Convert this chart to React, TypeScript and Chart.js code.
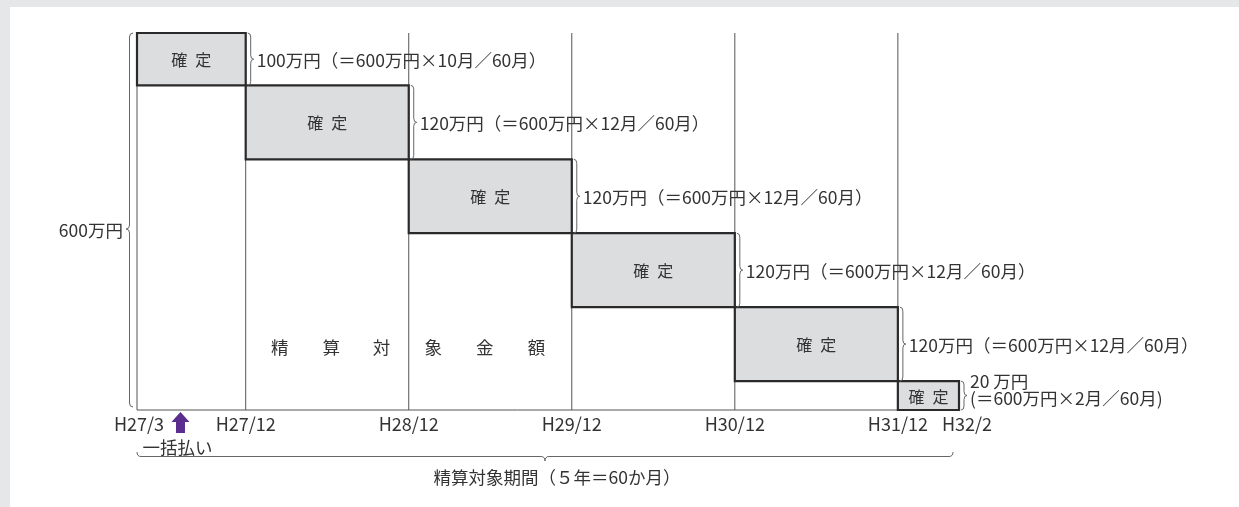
import { useEffect, useRef } from 'react';
import { Chart, registerables } from 'chart.js';

Chart.register(...registerables);

// ---- data (schematic diagram) ----
const periodLabels = ['H27/3', 'H27/12', 'H28/12', 'H29/12', 'H30/12', 'H31/12', 'H32/2'];
// x positions of the period boundaries on the diagram (month-like schematic units)
const periodEdges = [0, 8, 20, 32, 44, 56, 60.5];
// settled amounts per period (万円)
const settledAmounts = [100, 120, 120, 120, 120, 20];
// drawn heights of the boxes on the diagram (schematic, not to scale)
const drawnHeights = [85, 120, 120, 120, 120, 47];
const amountLabels: string[][] = [
  ['100万円（＝600万円×10月／60月）'],
  ['120万円（＝600万円×12月／60月）'],
  ['120万円（＝600万円×12月／60月）'],
  ['120万円（＝600万円×12月／60月）'],
  ['120万円（＝600万円×12月／60月）'],
  ['20 万円', '(＝600万円×2月／60月)'],
];
const boxLabel = '確\u2002定';
const totalLabel = '600万円';
const targetChars = ['精', '算', '対', '象', '金', '額'];
const targetCharX = [10.5, 14.3, 18.0, 21.8, 25.6, 29.4];
const targetCharY = 102;
const paymentLabel = '一括払い';
const paymentAt = 3.2;
const periodNote = '精算対象期間（５年＝60か月）';

const FONT = '"Noto Sans CJK JP", "Noto Sans", sans-serif';
const TEXT = '#333333';
const LINE = '#555555';

function braceV(ctx: CanvasRenderingContext2D, x0: number, y0: number, y1: number, d: number, w: number, tipY?: number) {
  const ym = tipY ?? (y0 + y1) / 2;
  const xm = x0 + (d * w) / 2;
  const xt = x0 + d * w;
  const r = Math.min(4, (y1 - y0) / 4);
  ctx.beginPath();
  ctx.moveTo(x0, y0);
  ctx.quadraticCurveTo(xm, y0, xm, y0 + r);
  ctx.lineTo(xm, ym - r);
  ctx.quadraticCurveTo(xm, ym, xt, ym);
  ctx.quadraticCurveTo(xm, ym, xm, ym + r);
  ctx.lineTo(xm, y1 - r);
  ctx.quadraticCurveTo(xm, y1, x0, y1);
  ctx.stroke();
}

function braceH(ctx: CanvasRenderingContext2D, x0: number, x1: number, y0: number, d: number, h: number) {
  const xm = (x0 + x1) / 2;
  const ym = y0 + (d * h) / 2;
  const yt = y0 + d * h;
  const r = 4;
  ctx.beginPath();
  ctx.moveTo(x0, y0);
  ctx.quadraticCurveTo(x0, ym, x0 + r, ym);
  ctx.lineTo(xm - r, ym);
  ctx.quadraticCurveTo(xm, ym, xm, yt);
  ctx.quadraticCurveTo(xm, ym, xm + r, ym);
  ctx.lineTo(x1 - r, ym);
  ctx.quadraticCurveTo(x1, ym, x1, y0);
  ctx.stroke();
}

export default function App() {
  const ref = useRef<HTMLCanvasElement>(null);

  useEffect(() => {
    document.body.style.margin = '0';
    const canvas = ref.current;
    if (!canvas) return;

    const bottoms: number[] = [];
    let acc = 0;
    for (let i = drawnHeights.length - 1; i >= 0; i--) {
      bottoms[i] = acc;
      acc += drawnHeights[i];
    }
    const total = acc;

    const boxDatasets = drawnHeights.map((h, i) => ({
      type: 'line' as const,
      data: [
        { x: periodEdges[i], y: bottoms[i] },
        { x: periodEdges[i + 1], y: bottoms[i] },
        { x: periodEdges[i + 1], y: bottoms[i] + h },
        { x: periodEdges[i], y: bottoms[i] + h },
        { x: periodEdges[i], y: bottoms[i] },
      ],
      fill: 'shape' as const,
      backgroundColor: '#dcdddf',
      borderColor: '#2a2a2a',
      borderWidth: 2.2,
      borderJoinStyle: 'miter' as const,
      borderCapStyle: 'square' as const,
      pointRadius: 0,
      tension: 0,
      order: 1,
      clip: false as const,
    }));

    const gridPoints: { x: number; y: number | null }[] = [];
    for (let i = 0; i < periodEdges.length - 1; i++) {
      gridPoints.push({ x: periodEdges[i], y: 0 }, { x: periodEdges[i], y: total }, { x: periodEdges[i], y: null });
    }
    gridPoints.push({ x: periodEdges[0], y: 0 }, { x: periodEdges[periodEdges.length - 2], y: 0 });

    const annotations = {
      id: 'annotations',
      afterDraw(chart: Chart) {
        const ctx = chart.ctx;
        const xs = chart.scales.x;
        const ys = chart.scales.y;
        const px = (v: number) => xs.getPixelForValue(v);
        const py = (v: number) => ys.getPixelForValue(v);
        ctx.save();
        ctx.fillStyle = TEXT;
        ctx.strokeStyle = '#666';
        ctx.lineWidth = 1;

        // box captions
        ctx.font = `16px ${FONT}`;
        ctx.textAlign = 'center';
        ctx.textBaseline = 'middle';
        drawnHeights.forEach((h, i) => {
          const cx = (px(periodEdges[i]) + px(periodEdges[i + 1])) / 2;
          const cy = py(bottoms[i] + h / 2);
          ctx.fillText(boxLabel, cx, cy + 1);
        });

        // amount braces + labels
        ctx.font = `17.5px ${FONT}`;
        ctx.textAlign = 'left';
        drawnHeights.forEach((h, i) => {
          const xr = px(periodEdges[i + 1]) + 2;
          const yt = py(bottoms[i] + h);
          const yb = py(bottoms[i]);
          braceV(ctx, xr, yt, yb, 1, 6);
          const lines = amountLabels[i];
          const mid = (yt + yb) / 2;
          lines.forEach((t, k) => {
            const off = lines.length > 1 ? (k - (lines.length - 1) / 2) * 17 - 7 : 0;
            ctx.fillText(t, xr + 9, mid + off + 1);
          });
        });

        // total brace on the left
        const lx = px(periodEdges[0]) - 4;
        const top = py(total);
        const bot = py(0) - 3;
        braceV(ctx, lx, top, bot, -1, 7, (top + bot) / 2 + 9);
        ctx.textAlign = 'right';
        ctx.fillText(totalLabel, lx - 10, (top + bot) / 2 + 10);

        // 精算対象金額
        ctx.textAlign = 'center';
        targetChars.forEach((c, i) => ctx.fillText(c, px(targetCharX[i]), py(targetCharY)));

        // period tick labels
        ctx.font = `18px ${FONT}`;
        const base = py(0);
        periodLabels.forEach((t, i) => {
          const shift = i === periodLabels.length - 1 ? 8 : i === 0 ? 2 : 0;
          ctx.fillText(t, px(periodEdges[i]) + shift, base + 14);
        });

        // payment arrow
        const ax = px(paymentAt);
        ctx.fillStyle = '#5b2d8f';
        ctx.beginPath();
        ctx.moveTo(ax, base + 2);
        ctx.lineTo(ax + 9, base + 12);
        ctx.lineTo(ax + 4.5, base + 12);
        ctx.lineTo(ax + 4.5, base + 23);
        ctx.lineTo(ax - 4.5, base + 23);
        ctx.lineTo(ax - 4.5, base + 12);
        ctx.lineTo(ax - 9, base + 12);
        ctx.closePath();
        ctx.fill();
        ctx.fillStyle = TEXT;
        ctx.font = `17.5px ${FONT}`;
        ctx.fillText(paymentLabel, ax - 3, base + 37);

        // bottom brace + note
        const bx0 = px(periodEdges[0]);
        const bx1 = px(periodEdges[periodEdges.length - 1]) - 6;
        braceH(ctx, bx0, bx1, base + 42, 1, 9);
        ctx.fillText(periodNote, (bx0 + bx1) / 2 + 12, base + 67);
        ctx.restore();
      },
    };

    const chart = new Chart(canvas, {
      type: 'line',
      data: {
        datasets: [
          ...boxDatasets,
          {
            type: 'line' as const,
            data: gridPoints,
            borderColor: LINE,
            borderWidth: 1,
            pointRadius: 0,
            fill: false,
            spanGaps: false,
            order: 2,
            clip: false as const,
          },
        ] as any,
      },
      options: {
        animation: false,
        responsive: false,
        maintainAspectRatio: false,
        events: [],
        layout: { padding: { left: 137, right: 280, top: 33, bottom: 97 } },
        scales: {
          x: { type: 'linear', min: 0, max: periodEdges[periodEdges.length - 1], display: false },
          y: { type: 'linear', min: 0, max: total, display: false },
        },
        plugins: { legend: { display: false }, tooltip: { enabled: false } },
      },
      plugins: [annotations],
    });
    void settledAmounts;
    return () => chart.destroy();
  }, []);

  return (
    <div style={{ position: 'relative', width: 1239, height: 507, background: '#e6e7e8', overflow: 'hidden' }}>
      <div style={{ position: 'absolute', left: 10, top: 7, right: 0, bottom: 0, background: '#ffffff' }} />
      <canvas ref={ref} width={1239} height={507} style={{ position: 'absolute', left: 0, top: 0 }} />
    </div>
  );
}
